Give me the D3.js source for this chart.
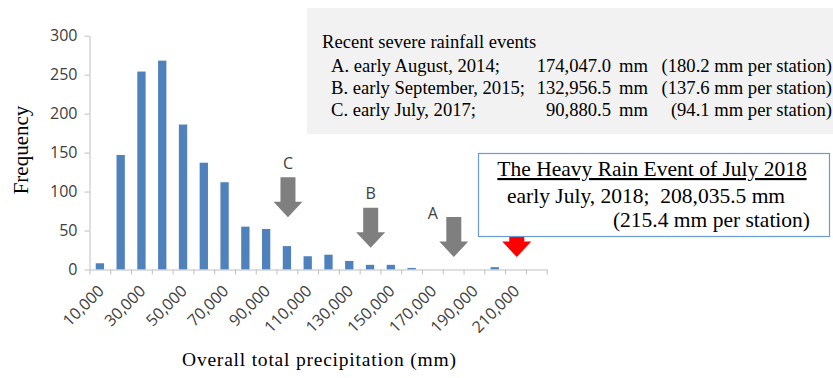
<!DOCTYPE html>
<html>
<head>
<meta charset="utf-8">
<script src="https://cdn.jsdelivr.net/npm/d3@7"></script>
<style>
  body { margin: 0; background: #fff; }
  .serif { font-family: "Liberation Serif", "Times New Roman", serif; fill: #000; }
  .sans { font-family: "Open Sans", sans-serif; fill: #404040; }
  .axis path, .axis line { stroke: #bfbfbf; }
</style>
</head>
<body>
<div id="chart"></div>
<script>
// histogram bins (upper bound of each 10,000 mm class) and counts
const bins = [10000, 20000, 30000, 40000, 50000, 60000, 70000, 80000, 90000, 100000, 110000,
              120000, 130000, 140000, 150000, 160000, 170000, 180000, 190000, 200000, 210000, 220000];
const frequency = [8, 147, 254, 268, 186, 137, 112, 55, 52, 30, 17, 19, 11, 6, 6, 2, 0, 0, 0, 3, 0, 0];
const labeledBins = [10000, 30000, 50000, 70000, 90000, 110000, 130000, 150000, 170000, 190000, 210000];
const yTicks = [0, 50, 100, 150, 200, 250, 300];

// past events (text panel)
const eventNames = ["A. early August, 2014;", "B. early September, 2015;", "C. early July, 2017;"];
const eventTotals = ["174,047.0", "132,956.5", "90,880.5"];
const eventPerStation = ["180.2", "137.6", "94.1"];

// arrows: where they point (mm) and the height of the tip (frequency)
const arrowLabels = ["C", "B", "A", ""];
const arrowAt = [95500, 135300, 175300, 205600];
const arrowTip = [67, 28, 16, 16];

const width = 833;
const height = 378;

const svg = d3.select("#chart")
    .append("svg")
    .attr("width", width)
    .attr("height", height);

const x = d3.scaleBand()
    .domain(bins)
    .range([89.5, 546.7])
    .paddingInner(0.6)
    .paddingOuter(0.3);

const xEdge = d3.scaleLinear()
    .domain([0, bins.length])
    .range([89.5, 546.7]);

const xMm = d3.scaleLinear()
    .domain([0, 220000])
    .range([89.5, 546.7]);

const y = d3.scaleLinear()
    .domain([0, 300])
    .range([269.5, 35.7]);

// grey panel with earlier events
svg.append("rect")
    .attr("x", 307).attr("y", 8)
    .attr("width", 526).attr("height", 126)
    .style("fill", "#f2f2f2");

svg.append("text")
    .attr("class", "serif")
    .attr("x", 322).attr("y", 48)
    .style("font-size", "18.6px")
    .text("Recent severe rainfall events");

eventNames.forEach(function(name, i) {
    const yy = 71.5 + i * 22;
    svg.append("text").attr("class", "serif")
        .attr("x", 331).attr("y", yy)
        .style("font-size", "18.6px")
        .text(name);
    svg.append("text").attr("class", "serif")
        .attr("x", 611).attr("y", yy)
        .attr("text-anchor", "end")
        .style("font-size", "18.6px")
        .text(eventTotals[i]);
    svg.append("text").attr("class", "serif")
        .attr("x", 648).attr("y", yy)
        .attr("text-anchor", "end")
        .style("font-size", "18.6px")
        .text("mm");
    svg.append("text").attr("class", "serif")
        .attr("x", 832).attr("y", yy)
        .attr("text-anchor", "end")
        .style("font-size", "18.6px")
        .text("(" + eventPerStation[i] + " mm per station)");
});

// bars
svg.selectAll("rect.bar").data(frequency).enter().append("rect")
    .attr("class", "bar")
    .attr("x", (d, i) => x(bins[i]))
    .attr("width", x.bandwidth())
    .attr("y", d => y(d))
    .attr("height", d => y(0) - y(d))
    .style("fill", "#4f81bd");

// y axis
svg.append("g")
    .attr("class", "axis")
    .attr("transform", "translate(89.5,0)")
    .call(d3.axisLeft(y).tickValues(yTicks).tickSize(5).tickSizeOuter(0).tickPadding(7))
    .call(g => g.selectAll("text")
        .attr("class", "sans")
        .style("font-size", "16px")
        .style("fill", "#404040"));

// x axis, tick marks between the bins
svg.append("g")
    .attr("class", "axis")
    .attr("transform", "translate(0," + y(0) + ")")
    .call(d3.axisBottom(xEdge).tickValues(d3.range(bins.length + 1)).tickSize(5).tickSizeOuter(0).tickFormat(""));

svg.selectAll("text.xlab").data(labeledBins).enter().append("text")
    .attr("class", "sans xlab")
    .attr("text-anchor", "end")
    .attr("transform", d => "translate(" + (x(d) + x.bandwidth() / 2 + 5) + ",292) rotate(-45)")
    .style("font-size", "16px")
    .text(d => d3.format(",")(d));

// axis titles
svg.append("text")
    .attr("class", "serif")
    .attr("transform", "translate(28,150) rotate(-90)")
    .attr("text-anchor", "middle")
    .style("font-size", "21px")
    .text("Frequency");

svg.append("text")
    .attr("class", "serif")
    .attr("x", 182).attr("y", 366)
    .attr("textLength", 274)
    .attr("lengthAdjust", "spacing")
    .style("font-size", "19.5px")
    .text("Overall total precipitation (mm)");

// arrows
function arrowPath(cx, tip) {
    const len = 40, head = 15.5, shaft = 7.5, wing = 14.5;
    const top = tip - len, neck = tip - head;
    return "M" + (cx - shaft) + "," + top +
        "L" + (cx + shaft) + "," + top +
        "L" + (cx + shaft) + "," + neck +
        "L" + (cx + wing) + "," + neck +
        "L" + cx + "," + tip +
        "L" + (cx - wing) + "," + neck +
        "L" + (cx - shaft) + "," + neck + "Z";
}

svg.selectAll("path.arrow").data(arrowAt).enter().append("path")
    .attr("class", "arrow")
    .attr("d", (d, i) => arrowPath(xMm(d), y(arrowTip[i])))
    .style("fill", (d, i) => arrowLabels[i] === "" ? "#ff0000" : "#7f7f7f");

const labelShift = { C: [0, -8.5], B: [0, -9], A: [-21, 1.5] };
svg.selectAll("text.alab").data(arrowAt).enter().append("text")
    .attr("class", "sans alab")
    .attr("text-anchor", "middle")
    .attr("x", (d, i) => xMm(d) + (labelShift[arrowLabels[i]] || [0, 0])[0])
    .attr("y", (d, i) => y(arrowTip[i]) - 40 + (labelShift[arrowLabels[i]] || [0, 0])[1])
    .style("font-size", "16px")
    .text((d, i) => arrowLabels[i]);

// 2018 event box
svg.append("rect")
    .attr("x", 478.5).attr("y", 153.5)
    .attr("width", 351).attr("height", 83)
    .style("fill", "#fff")
    .style("stroke", "#6a9bd6")
    .style("stroke-width", 1.2);

svg.append("text")
    .attr("class", "serif")
    .attr("x", 652).attr("y", 176)
    .attr("text-anchor", "middle")
    .style("font-size", "21.5px")
    .style("text-decoration", "underline")
    .text("The Heavy Rain Event of July 2018");

svg.append("text")
    .attr("class", "serif")
    .attr("x", 507).attr("y", 203)
    .style("font-size", "21.5px")
    .style("white-space", "pre")
    .text("early July, 2018;  208,035.5 mm");

svg.append("text")
    .attr("class", "serif")
    .attr("x", 810).attr("y", 227)
    .attr("text-anchor", "end")
    .style("font-size", "21.5px")
    .text("(215.4 mm per station)");
</script>
</body>
</html>
